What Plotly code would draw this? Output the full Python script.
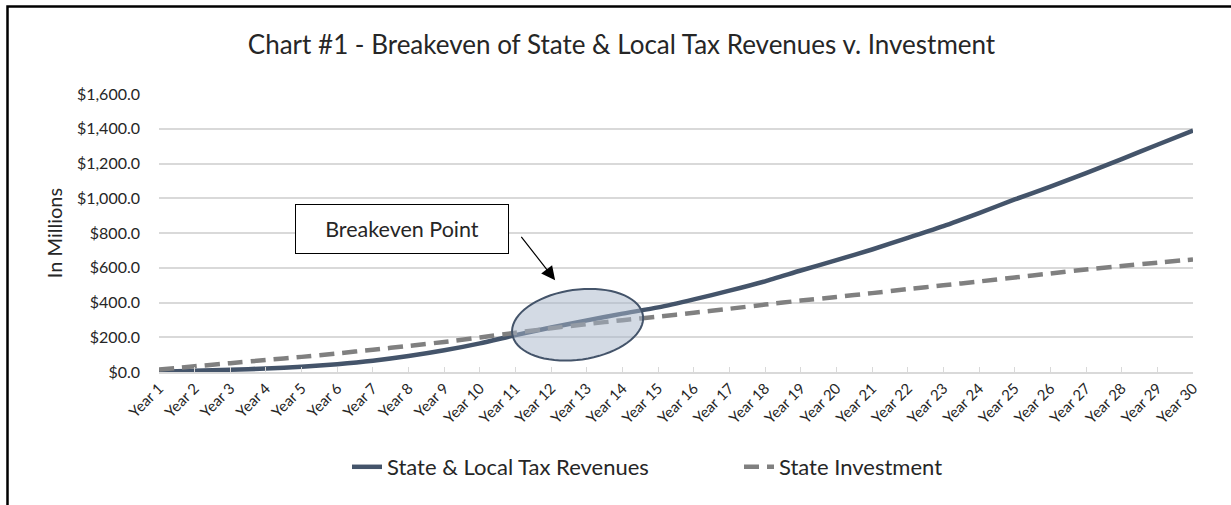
import numpy as np
import plotly.graph_objects as go

years = list(range(1, 31))
categories = [f"Year {y}" for y in years]
tax_revenues = [2, 7, 13, 20, 30, 45, 65, 92, 125, 165, 212, 256, 297, 336, 372,
                418, 468, 522, 584, 644, 705, 772, 840, 915, 993, 1067, 1145, 1225, 1308, 1390]
state_investment = [14, 33, 51, 69, 87, 107, 128, 150, 173, 199, 226, 252, 276, 298, 319,
                    341, 364, 388, 411, 432, 454, 477, 499, 521, 544, 567, 590, 610, 629, 648]
y_ticks = [0, 200, 400, 600, 800, 1000, 1200, 1400, 1600]

FONT = "Lato, 'Open Sans', sans-serif"
TXT = "#262626"

fig = go.Figure()
fig.add_trace(go.Scatter(x=years, y=tax_revenues, mode="lines",
                         name="State & Local Tax Revenues",
                         line=dict(color="#44546A", width=4.5, shape="spline", smoothing=0.6)))
fig.add_trace(go.Scatter(x=years, y=state_investment, mode="lines",
                         name="State Investment",
                         line=dict(color="#808080", width=4.5, dash="15px,8px", shape="spline", smoothing=0.6)))

# layout geometry (pixels)
W, H = 1231, 505
L, R, T, B = 159, 38, 94, 133
pw, ph = W - L - R, H - T - B
px_per_year = pw / 29
px_per_val = ph / 1600


def px2paper_x(p):
    return (p - L) / pw


def py2paper_y(p):
    return (H - B - p) / ph


# ellipse highlighting the breakeven region (data-coord centre, pixel radii)
cx, cy = 12.74, 272
a, b, th = 66, 35, np.deg2rad(8)
t = np.linspace(0, 2 * np.pi, 73)
dx = a * np.cos(t) * np.cos(th) - b * np.sin(t) * np.sin(th)
dy = a * np.cos(t) * np.sin(th) + b * np.sin(t) * np.cos(th)
ex = cx + dx / px_per_year
ey = cy + dy / px_per_val
path = "M " + " L ".join(f"{x:.4f},{y:.3f}" for x, y in zip(ex, ey)) + " Z"
fig.add_shape(type="path", path=path, xref="x", yref="y",
              fillcolor="rgba(167,181,201,0.5)", line=dict(color="#44546A", width=2))

# outer frame
fig.add_shape(type="rect", xref="paper", yref="paper",
              x0=px2paper_x(7.5), x1=px2paper_x(1300), y0=py2paper_y(600), y1=py2paper_y(6.5),
              line=dict(color="black", width=2.5), fillcolor="rgba(0,0,0,0)", layer="above")

# callout box
fig.add_annotation(x=px2paper_x(402), y=py2paper_y(229), xref="paper", yref="paper",
                   text="Breakeven Point", showarrow=False,
                   font=dict(family=FONT, size=21.5, color=TXT),
                   width=212, height=48, bordercolor="black", borderwidth=1,
                   borderpad=0, bgcolor="white", xanchor="center", yanchor="middle")
# arrow
fig.add_annotation(x=12.11, y=528, xref="x", yref="y", text="", showarrow=True,
                   ax=-35, ay=-45, arrowhead=2, arrowsize=2.3, arrowwidth=1.2,
                   arrowcolor="black")

fig.update_layout(
    width=W, height=H,
    margin=dict(l=L, r=R, t=T, b=B, autoexpand=False),
    paper_bgcolor="white", plot_bgcolor="white",
    font=dict(family=FONT, color=TXT),
    title=dict(text="Chart #1 - Breakeven of State & Local Tax Revenues v. Investment",
               x=621.5 / W, xref="container", xanchor="center",
               y=1 - 45 / H, yref="container", yanchor="middle",
               font=dict(family=FONT, size=26, color=TXT)),
    showlegend=True,
    legend=dict(orientation="h", x=px2paper_x(347), xanchor="left",
                y=py2paper_y(467), yanchor="middle",
                entrywidth=347, entrywidthmode="pixels",
                font=dict(family=FONT, size=22, color=TXT),
                bgcolor="rgba(0,0,0,0)", traceorder="normal"),
)
fig.update_xaxes(range=[1, 30], tickvals=years, ticktext=categories, tickangle=-45,
                 showgrid=False, zeroline=False, showline=True, linecolor="#D9D9D9",
                 linewidth=1.5, ticks="inside", ticklen=5, tickcolor="#D9D9D9",
                 automargin=False,
                 tickfont=dict(family=FONT, size=15, color=TXT))
fig.update_yaxes(range=[0, 1600], tickvals=y_ticks, tickformat="$,.1f",
                 showgrid=True, gridcolor="#D9D9D9", gridwidth=1.5, zeroline=False,
                 showline=False, ticklabelstandoff=18, automargin=False,
                 tickfont=dict(family=FONT, size=16, color=TXT),
                 title=dict(text="In Millions", standoff=8,
                            font=dict(family=FONT, size=20, color=TXT)))

fig.write_html("out.html", config={"displayModeBar": False},
               post_script="document.body.style.margin='0';")
